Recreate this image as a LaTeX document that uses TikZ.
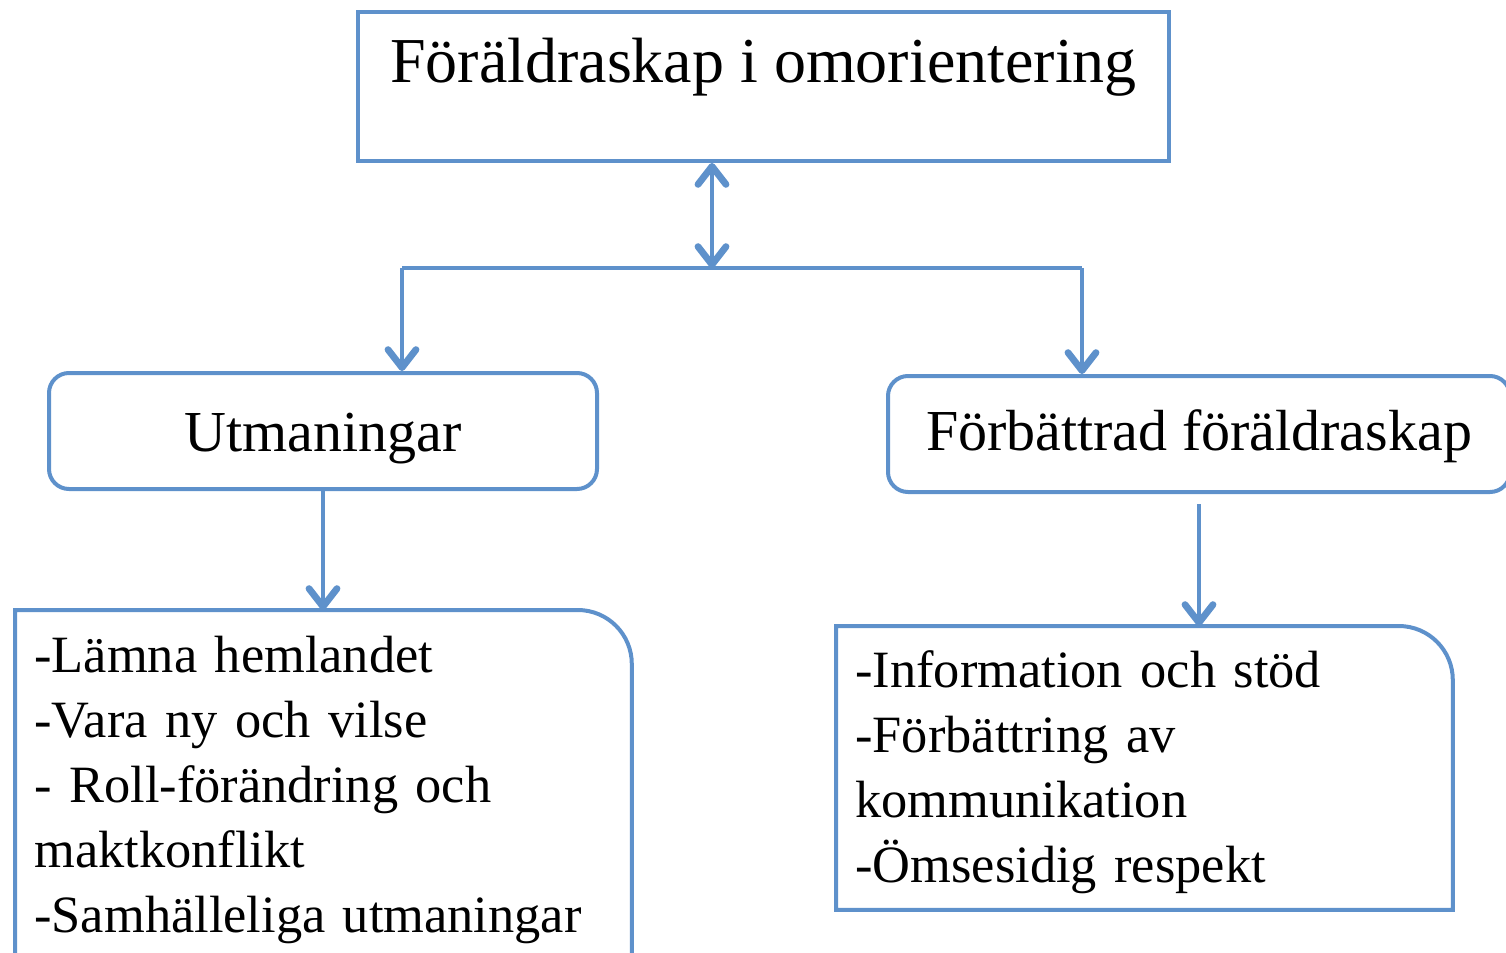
\documentclass[tikz,border=0pt]{standalone}
\usepackage{fontspec}
\setmainfont{Liberation Serif}
\usetikzlibrary{arrows.meta}
\definecolor{boxblue}{RGB}{94,145,203}
\tikzset{
  conn/.style={draw=boxblue, line width=2.2pt},
  barb/.tip={Straight Barb[length=9pt,width=14pt,line width=3.4pt,round]},
  tipend/.style={-barb},
  tipboth/.style={barb-barb},
  boxline/.style={draw=boxblue, line width=2pt},
  listbox/.style={inner xsep=9.5pt, inner ysep=0pt, align=left, anchor=north west,
    font=\fontsize{26.2}{32.5}\selectfont},
}
\begin{document}
\begin{tikzpicture}[x=0.5pt,y=-0.5pt]
\useasboundingbox (0,0) rectangle (1506,953);
\clip (0,0) rectangle (1506,953);
% top box
\node[boxline, rectangle, inner sep=0pt, minimum width=405.5pt, text height=35pt, text depth=39.5pt,
  font=\fontsize{32}{38}\selectfont] (top) at (763.5,86.5) {Föräldraskap i omorientering};
% second row
\node[boxline, rectangle, rounded corners=10pt, inner sep=0pt, minimum width=274pt,
  text height=39pt, text depth=19pt, font=\fontsize{29}{34}\selectfont] (utm) at (323,431) {Utmaningar};
\node[boxline, rectangle, rounded corners=10pt, inner sep=0pt, minimum width=311pt,
  text height=37pt, text depth=21pt, font=\fontsize{29}{34}\selectfont] (forb) at (1199,434) {Förbättrad föräldraskap};
% list boxes
\node[listbox, text width=289pt, text height=31pt, text depth=164pt] (lbox) at (15,610)
  {-Lämna hemlandet\\-Vara ny och vilse\\- Roll-förändring och\\maktkonflikt\\-Samhälleliga utmaningar};
\node[listbox, text width=289pt, text height=30.5pt, text depth=111pt] (rbox) at (836,626)
  {-Information och stöd\\-Förbättring av\\kommunikation\\-Ömsesidig respekt};
\draw[boxline] (lbox.south west) -- (lbox.north west) -- ([xshift=-27pt]lbox.north east)
  arc[start angle=90, end angle=0, radius=27pt] -- (lbox.south east);
\draw[boxline] (rbox.south west) -- (rbox.north west) -- ([xshift=-27pt]rbox.north east)
  arc[start angle=90, end angle=0, radius=27pt] -- (rbox.south east) -- cycle;
% connectors
\coordinate (j) at (712,268);
\coordinate (jl) at (402,268);
\coordinate (jr) at (1082,268);
\draw[conn, tipboth] (top.south -| j) -- (j);
\draw[conn] (jl) -- (jr);
\draw[conn, tipend] (jl) -- (utm.north -| jl);
\draw[conn, tipend] (jr) -- (forb.north -| jr);
\draw[conn, tipend] (utm.south) -- (lbox.north -| utm.south);
\draw[conn, tipend, shorten <=5pt] (forb.south) -- (rbox.north -| forb.south);
\end{tikzpicture}
\end{document}
